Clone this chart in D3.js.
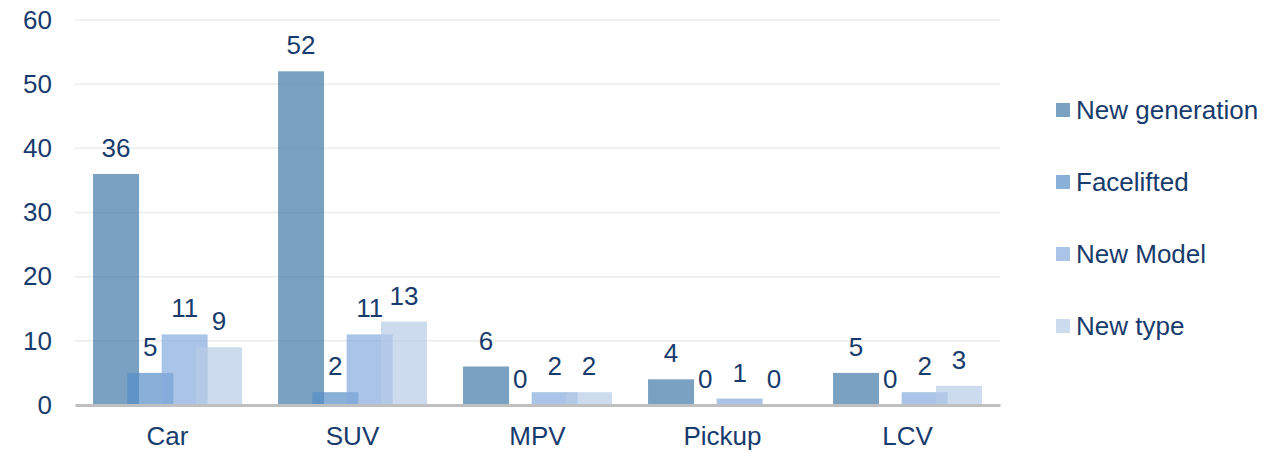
<!DOCTYPE html>
<html>
<head>
<meta charset="utf-8">
<script src="https://cdn.jsdelivr.net/npm/d3@7"></script>
<style>
  body { margin: 0; background: #fff; }
  svg { display: block; font-family: Arial, 'Liberation Sans', sans-serif; }
</style>
</head>
<body>
<svg width="1266" height="452"></svg>
<script>
let categories = ['Car', 'SUV', 'MPV', 'Pickup', 'LCV'];
let series = ['New generation', 'Facelifted', 'New Model', 'New type'];
let newGeneration = [36, 52, 6, 4, 5];
let facelifted = [5, 2, 0, 0, 0];
let newModel = [11, 11, 2, 1, 2];
let newType = [9, 13, 2, 0, 3];
let yTicks = [0, 10, 20, 30, 40, 50, 60];

let values = [newGeneration, facelifted, newModel, newType];
let colors = ['rgb(66,119,168)', 'rgb(86,142,199)', 'rgb(132,171,219)', 'rgb(182,204,231)'];
let textColor = '#173b6c';
let fontSize = '26px';

let svg = d3.select('svg');
let margin = { top: 20, right: 266, bottom: 47, left: 75 };
let width = +svg.attr('width');
let height = +svg.attr('height');
let barW = 46;

let x0 = d3.scaleBand()
    .domain(categories)
    .range([margin.left, width - margin.right])
    .paddingInner(0.195)
    .paddingOuter(0.0975);

let x1 = d3.scalePoint()
    .domain(series)
    .range([0, x0.bandwidth() - barW]);

let y = d3.scaleLinear()
    .domain([0, 60])
    .range([height - margin.bottom, margin.top]);

// gridlines
svg.append('g')
    .selectAll('line')
    .data(yTicks.slice(1))
    .enter().append('line')
    .attr('x1', margin.left)
    .attr('x2', width - margin.right)
    .attr('y1', d => y(d))
    .attr('y2', d => y(d))
    .attr('stroke', '#ececec')
    .attr('stroke-width', 1.5);

// y axis labels
let yAxis = svg.append('g')
    .attr('transform', 'translate(' + 52 + ',0)')
    .call(d3.axisLeft(y).tickValues(yTicks).tickSize(0).tickPadding(0));
yAxis.select('.domain').remove();
yAxis.selectAll('text')
    .attr('fill', textColor)
    .style('font-size', fontSize)
    .style('font-family', 'Arial, Liberation Sans, sans-serif');

// bars
let rows = [];
series.forEach((s, i) => {
    categories.forEach((c, j) => {
        rows.push({ s: s, c: c, v: values[i][j], i: i });
    });
});

svg.append('g')
    .selectAll('rect')
    .data(rows)
    .enter().append('rect')
    .attr('x', d => x0(d.c) + x1(d.s))
    .attr('y', d => y(d.v))
    .attr('width', barW)
    .attr('height', d => y(0) - y(d.v))
    .attr('fill', d => colors[d.i])
    .attr('fill-opacity', 0.7);

// value labels
svg.append('g')
    .selectAll('text')
    .data(rows)
    .enter().append('text')
    .attr('x', d => x0(d.c) + x1(d.s) + barW / 2)
    .attr('y', d => y(d.v) - 17)
    .attr('text-anchor', 'middle')
    .attr('fill', textColor)
    .style('font-size', fontSize)
    .text(d => d.v);

// baseline + x labels
let xAxis = svg.append('g')
    .attr('transform', 'translate(0,' + y(0) + ')')
    .call(d3.axisBottom(x0).tickSize(0).tickPadding(22));
xAxis.select('.domain')
    .attr('stroke', '#bfbfbf')
    .attr('stroke-width', 3);
xAxis.selectAll('text')
    .attr('fill', textColor)
    .style('font-size', fontSize)
    .style('font-family', 'Arial, Liberation Sans, sans-serif');

// legend
let legend = svg.append('g')
    .selectAll('g')
    .data(series)
    .enter().append('g')
    .attr('transform', (d, i) => 'translate(1056,' + (110 + i * 72) + ')');

legend.append('rect')
    .attr('x', 0)
    .attr('y', -7)
    .attr('width', 14)
    .attr('height', 14)
    .attr('fill', (d, i) => colors[i])
    .attr('fill-opacity', 0.7);

legend.append('text')
    .attr('x', 20)
    .attr('dy', '0.35em')
    .attr('fill', textColor)
    .style('font-size', fontSize)
    .text(d => d);
</script>
</body>
</html>
